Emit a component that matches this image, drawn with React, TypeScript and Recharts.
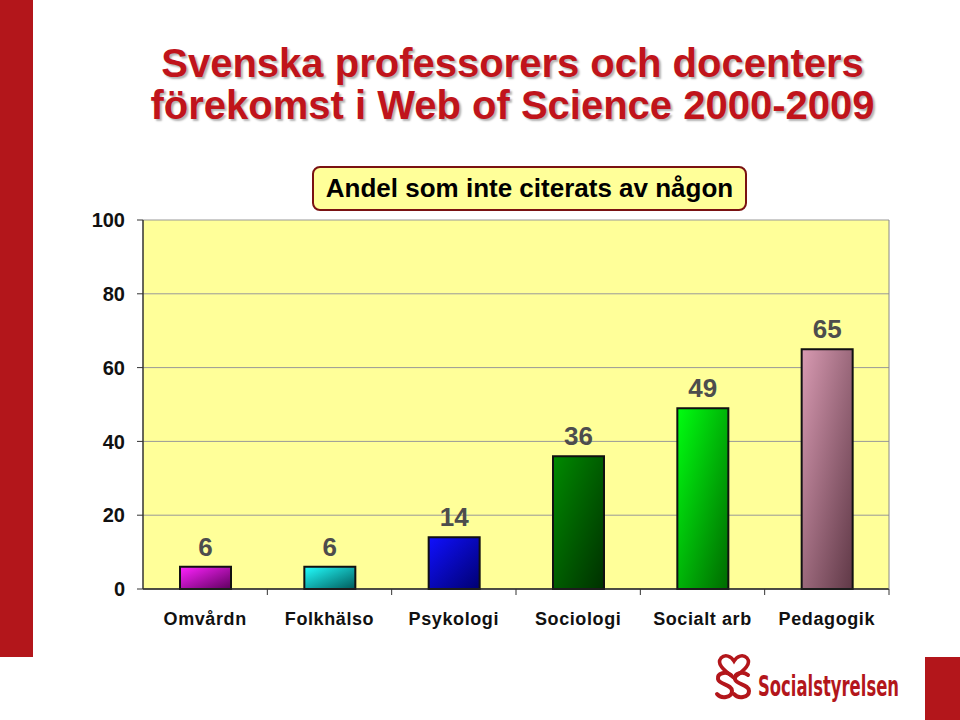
import { BarChart, Bar, XAxis, YAxis, CartesianGrid, Cell, LabelList } from "recharts";

const categories = ["Omvårdn", "Folkhälso", "Psykologi", "Sociologi", "Socialt arb", "Pedagogik"];
const values = [6, 6, 14, 36, 49, 65];
const yTicks = [0, 20, 40, 60, 80, 100];
const barLight = ["#ff22ff", "#22ffff", "#1010ff", "#008a00", "#00ff10", "#d89ab2"];
const barDark = ["#5e005e", "#005a5a", "#000070", "#003000", "#006a00", "#5f3846"];

const W = 960;
const H = 720;
const PLOT_LEFT = 143;
const PLOT_RIGHT = 889;
const PLOT_TOP = 220;
const PLOT_BOTTOM = 589;
const BAND = (PLOT_RIGHT - PLOT_LEFT) / categories.length;
const RED = "#b3161b";
const FONT = "'Liberation Sans', Arial, Helvetica, sans-serif";

const data = categories.map((name, i) => ({ name, value: values[i] }));

function CategoryTick(props: any) {
  const { x, payload } = props;
  const edge = x + BAND / 2;
  return (
    <g>
      <line x1={edge} x2={edge} y1={PLOT_BOTTOM} y2={PLOT_BOTTOM + 6} stroke="#333" strokeWidth={1} />
      <text
        x={x}
        y={PLOT_BOTTOM + 23}
        dy="0.71em"
        textAnchor="middle"
        fontFamily={FONT}
        fontWeight="bold"
        fontSize={18}
        letterSpacing={0.6}
        fill="#111"
      >
        {payload.value}
      </text>
    </g>
  );
}

// förenklat emblem + namn
function Logo() {
  const s = "M16 3 C 11 -1, 2 1, 3 7 C 4 13, 17 12, 17 19 C 17 26, 6 27, 2 22";
  return (
    <svg width={250} height={56} style={{ position: "absolute", left: 710, top: 652 }}>
      <path
        d="M24 26 C 14 18, 6 12, 11 6 C 15 2, 21 4, 24 9 C 27 4, 33 2, 37 6 C 42 12, 34 18, 24 26 Z"
        fill="none"
        stroke={RED}
        strokeWidth={3.5}
      />
      <path d={s} transform="translate(5,20)" fill="none" stroke={RED} strokeWidth={4} strokeLinecap="round" />
      <path d={s} transform="translate(22,20)" fill="none" stroke={RED} strokeWidth={4} strokeLinecap="round" />
      <g transform="scale(1,1.3)">
        <text
          x={48}
          y={44 / 1.3}
          fontFamily="'DejaVu Sans Condensed', 'Open Sans', sans-serif"
          fontWeight="bold"
          fontSize={22}
          textLength={141}
          lengthAdjust="spacingAndGlyphs"
          fill={RED}
        >
          Socialstyrelsen
        </text>
      </g>
    </svg>
  );
}

export default function App() {
  return (
    <div style={{ position: "absolute", left: 0, top: 0, width: W, height: H, background: "#fff", fontFamily: FONT }}>
      <div style={{ position: "absolute", left: 0, top: 0, width: 33, height: 657, background: RED }} />
      <div style={{ position: "absolute", left: 925, top: 657, width: 35, height: 63, background: RED }} />

      <div
        style={{
          position: "absolute",
          left: 0,
          width: 1025,
          top: 42,
          textAlign: "center",
          color: "#c0141b",
          fontWeight: "bold",
          fontSize: 40,
          lineHeight: "42px",
          textShadow: "2px 2px 2px rgba(0,0,0,0.3)",
        }}
      >
        <div>Svenska professorers och docenters</div>
        <div>förekomst i Web of Science 2000-2009</div>
      </div>

      <BarChart
        width={W}
        height={H}
        data={data}
        barSize={51}
        margin={{ top: PLOT_TOP, right: W - PLOT_RIGHT - 1, bottom: H - PLOT_BOTTOM - 30, left: PLOT_LEFT - 60 }}
      >
        <defs>
          {barLight.map((c, i) => (
            <linearGradient key={i} id={`bg${i}`} x1="0" y1="0" x2="1" y2="1">
              <stop offset="0%" stopColor={c} />
              <stop offset="100%" stopColor={barDark[i]} />
            </linearGradient>
          ))}
        </defs>
        <CartesianGrid fill="#ffff99" stroke="#999" vertical={false} />
        <XAxis
          dataKey="name"
          height={30}
          axisLine={{ stroke: "#222", strokeWidth: 1.5 }}
          tickLine={false}
          interval={0}
          tick={<CategoryTick />}
        />
        <YAxis
          width={60}
          domain={[0, 100]}
          ticks={yTicks}
          interval={0}
          tickSize={6}
          tickMargin={12}
          axisLine={{ stroke: "#333", strokeWidth: 1.5 }}
          tickLine={{ stroke: "#333" }}
          tick={{ fontFamily: FONT, fontSize: 20, fontWeight: "bold", fill: "#111" }}
        />
        <YAxis
          yAxisId="right"
          orientation="right"
          width={1}
          domain={[0, 100]}
          tick={false}
          tickLine={false}
          axisLine={{ stroke: "#888" }}
        />
        <Bar dataKey="value" isAnimationActive={false} stroke="#111" strokeWidth={2}>
          {data.map((d, i) => (
            <Cell key={d.name} fill={`url(#bg${i})`} />
          ))}
          <LabelList
            dataKey="value"
            position="top"
            offset={11}
            fill="#4d4d4d"
            fontFamily={FONT}
            fontSize={26}
            fontWeight="bold"
          />
        </Bar>
      </BarChart>

      <div
        style={{
          position: "absolute",
          left: 312,
          top: 166,
          width: 431,
          height: 41,
          border: "2px solid #7a1212",
          borderRadius: 8,
          background: "#ffff99",
          textAlign: "center",
          lineHeight: "41px",
          fontWeight: "bold",
          fontSize: 26,
          color: "#000",
        }}
      >
        Andel som inte citerats av någon
      </div>

      <Logo />
    </div>
  );
}
